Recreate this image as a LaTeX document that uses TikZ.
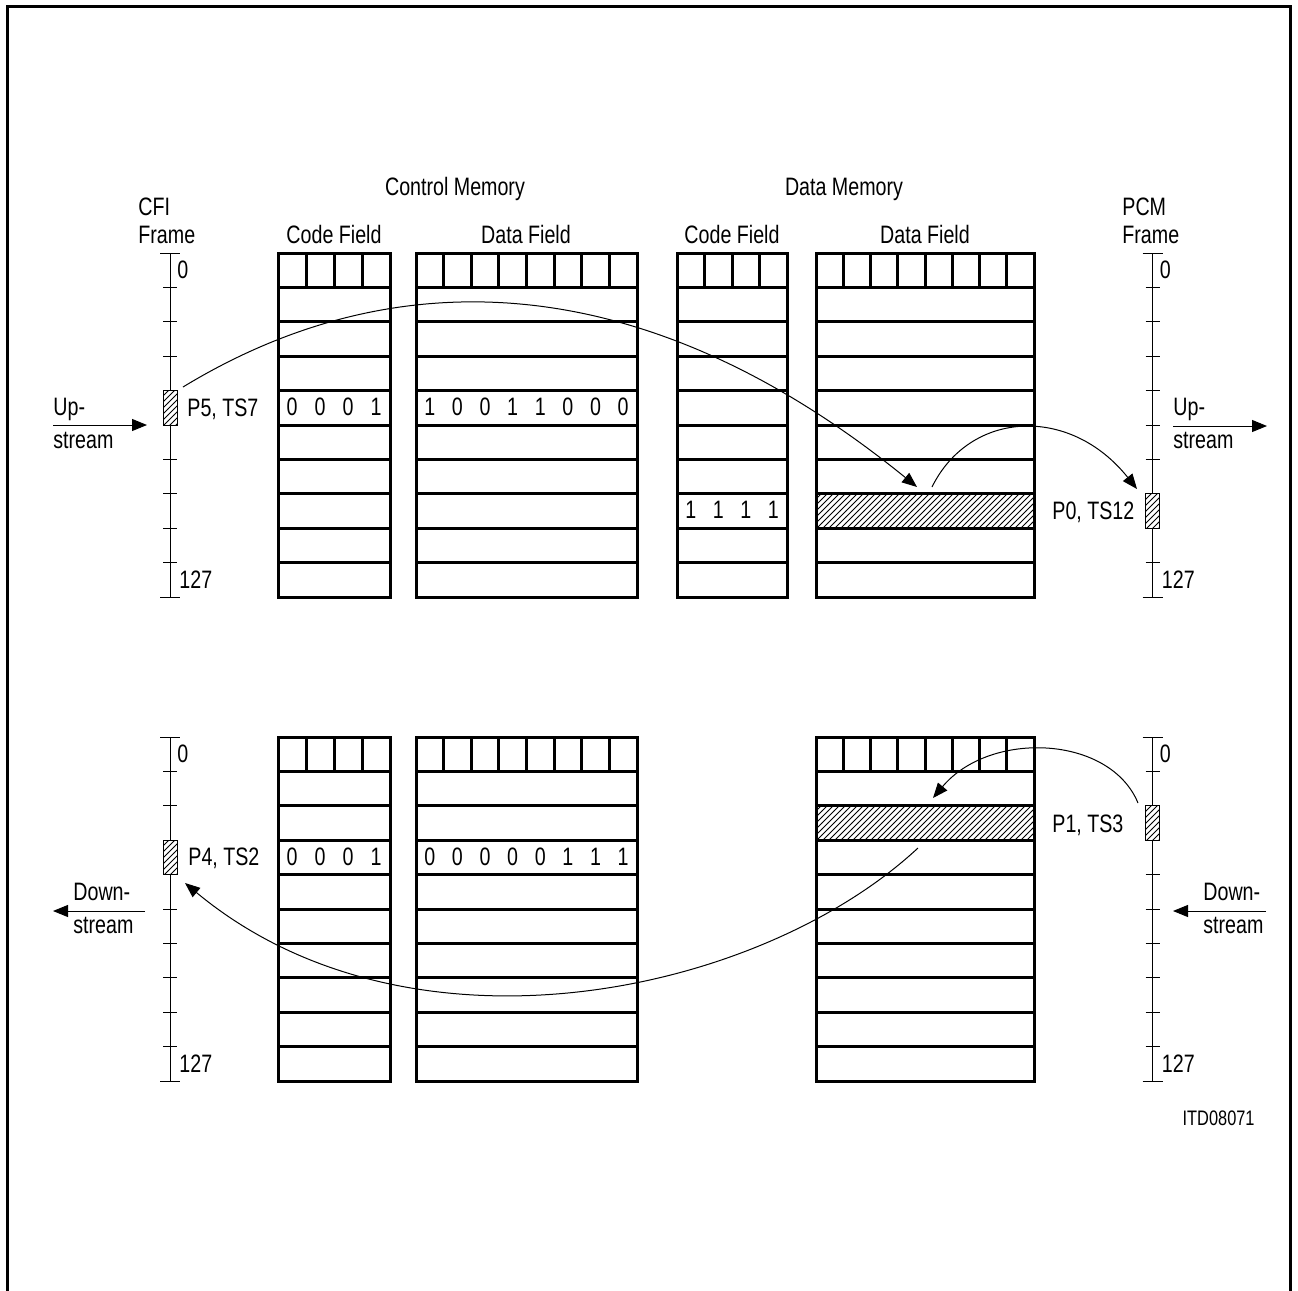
\documentclass[tikz,border=0pt]{standalone}
\usepackage{fontspec}
\setmainfont{Liberation Sans}[FakeStretch=0.78]
\usetikzlibrary{arrows.meta,patterns}
\tikzset{
  memline/.style={line width=1.5pt},
  thinline/.style={line width=0.5pt},
  flow/.style={line width=0.5pt,-{Triangle[length=7.5pt,width=6pt]}},
  txt/.style={inner sep=0pt, font=\fontsize{12.6}{15}\selectfont},
  smalltxt/.style={inner sep=0pt, font=\fontsize{10.5}{12}\selectfont},
  hatch/.style={pattern=north east lines},
}
% x0 x1 ytop ncells ncells-1
\newcommand\MemBlock[5]{%
  \pgfmathsetmacro\cwid{(#2-#1)/#4}
  \draw[memline] (#1,#3) rectangle (#2,#3+344);
  \foreach \k in {1,...,9} {\draw[memline] (#1,#3+34.4*\k) -- (#2,#3+34.4*\k);}
  \foreach \c in {1,...,#5} {\draw[memline] (#1+\cwid*\c,#3) -- (#1+\cwid*\c,#3+34.4);}
}
% x0 x1 ytop k
\newcommand\HatchRow[4]{%
  \draw[memline,hatch] (#1,#3+34.4*#4) rectangle (#2,#3+34.4*#4+34.4);}
% x0 x1 rowtop n list
\newcommand\Bits[5]{%
  \pgfmathsetmacro\cwid{(#2-#1)/#4}
  \foreach \d [count=\i] in {#5} {\node[txt,anchor=base] at (#1+\cwid*\i-\cwid/2,#3+25) {\d};}
}
% x ytop k name
\newcommand\FrameScale[4]{%
  \draw[thinline] (#1,#2) -- (#1,#2+344);
  \draw[thinline] (#1-10,#2) -- (#1+10,#2) (#1-10,#2+344) -- (#1+10,#2+344);
  \foreach \k in {1,...,9} {\draw[thinline] (#1-7,#2+34.4*\k) -- (#1+7,#2+34.4*\k);}
  \draw[thinline,fill=white] (#1-7,#2+34.4*#3) rectangle (#1+7,#2+34.4*#3+34.4);
  \path[hatch] (#1-7,#2+34.4*#3) rectangle (#1+7,#2+34.4*#3+34.4);
  \draw[thinline] (#1-7,#2+34.4*#3) rectangle (#1+7,#2+34.4*#3+34.4);
  \coordinate (#4) at (#1,#2+34.4*#3+17.2);
  \node[txt,anchor=base west] (#4zero) at (#1+7,#2+25) {0};
  \node[txt,anchor=base west] (#4end) at (#1+9,#2+335) {127};
}
\begin{document}
\begin{tikzpicture}[x=0.5pt,y=-0.5pt]
\useasboundingbox (0,0) rectangle (1298,1291);
% outer frame
\draw[memline] (7,1291) -- (7,6) -- (1290,6) -- (1290,1291);

% ---------- top section ----------
\node[txt,anchor=base] (cmtitle) at (455,195) {Control Memory};
\node[txt,anchor=base] (dmtitle) at (844,195) {Data Memory};
\node[txt,anchor=base west] (cfi1) at (138,215) {CFI};
\node[txt,anchor=base west] (cfi2) at (138,243) {Frame};
\node[txt,anchor=base west] (pcm1) at (1122,215) {PCM};
\node[txt,anchor=base west] (pcm2) at (1122,243) {Frame};
\node[txt,anchor=base] (cf1) at (334,243) {Code Field};
\node[txt,anchor=base] (df1) at (526,243) {Data Field};
\node[txt,anchor=base] (cf2) at (732,243) {Code Field};
\node[txt,anchor=base] (df2) at (925,243) {Data Field};

\MemBlock{278}{390}{253}{4}{3}
\MemBlock{416}{637}{253}{8}{7}
\MemBlock{677}{787}{253}{4}{3}
\HatchRow{816}{1034}{253}{7}
\MemBlock{816}{1034}{253}{8}{7}
\Bits{278}{390}{390.6}{4}{0,0,0,1}
\Bits{416}{637}{390.6}{8}{1,0,0,1,1,0,0,0}
\Bits{677}{787}{493.8}{4}{1,1,1,1}

\FrameScale{170}{253}{4}{cfiup}
\FrameScale{1152.5}{253}{7}{pcmup}
\node[txt,anchor=base west] (p5) at (187,416) {P5, TS7};
\node[txt,anchor=base west] (p0) at (1052,519) {P0, TS12};

% upstream arrows
\node[txt,anchor=base west] (upl1) at (53,415) {Up-};
\node[txt,anchor=base west] (upl2) at (53,448) {stream};
\coordinate (ulA) at (53,425); \coordinate (ulB) at (147,425);
\draw[flow] (ulA) -- (ulB);
\node[txt,anchor=base west] (upr1) at (1173,415) {Up-};
\node[txt,anchor=base west] (upr2) at (1173,448) {stream};
\coordinate (urA) at (1173,426); \coordinate (urB) at (1267,426);
\draw[flow] (urA) -- (urB);

% curved transfers (top)
\coordinate (a1s) at (183,387); \coordinate (a1e) at (917,487);
\draw[flow] (a1s) .. controls (400,255) and (650,270) .. (a1e);
\coordinate (a2s) at (932,487); \coordinate (a2e) at (1137,489);
\draw[flow] (a2s) .. controls (970,410) and (1070,405) .. (a2e);

% ---------- bottom section ----------
\MemBlock{278}{390}{737}{4}{3}
\MemBlock{416}{637}{737}{8}{7}
\HatchRow{816}{1034}{737}{2}
\MemBlock{816}{1034}{737}{8}{7}
\Bits{278}{390}{840.2}{4}{0,0,0,1}
\Bits{416}{637}{840.2}{8}{0,0,0,0,0,1,1,1}

\FrameScale{170}{737}{3}{cfidn}
\FrameScale{1152.5}{737}{2}{pcmdn}
\node[txt,anchor=base west] (p4) at (188,865) {P4, TS2};
\node[txt,anchor=base west] (p1) at (1052,832) {P1, TS3};

% downstream arrows
\node[txt,anchor=base west] (dnl1) at (73,900) {Down-};
\node[txt,anchor=base west] (dnl2) at (73,933) {stream};
\coordinate (dlA) at (145,911); \coordinate (dlB) at (53,911);
\draw[flow] (dlA) -- (dlB);
\node[txt,anchor=base west] (dnr1) at (1203,900) {Down-};
\node[txt,anchor=base west] (dnr2) at (1203,933) {stream};
\coordinate (drA) at (1266,911); \coordinate (drB) at (1173,911);
\draw[flow] (drA) -- (drB);

% curved transfers (bottom)
\coordinate (a3s) at (1138,803); \coordinate (a3e) at (933,798);
\draw[flow] (a3s) .. controls (1110,735) and (990,730) .. (a3e);
\coordinate (a4s) at (918,848); \coordinate (a4e) at (185,883);
\draw[flow] (a4s) .. controls (760,995) and (410,1070) .. (a4e);

\node[smalltxt,anchor=base east] (itd) at (1255,1125) {ITD08071};
\end{tikzpicture}
\end{document}
